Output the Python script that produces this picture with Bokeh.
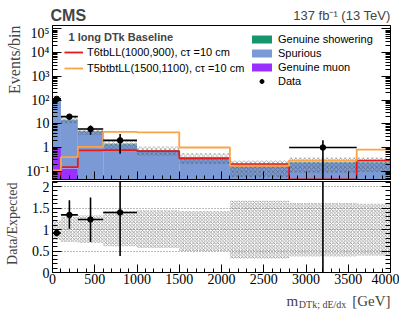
import math
from bokeh.plotting import figure
from bokeh.models import (Range1d, LogAxis, LinearAxis, FixedTicker, Label,
                          Legend, LegendItem, CustomJSTickFormatter)
from bokeh.layouts import column, row
from bokeh.embed import file_html
from bokeh.resources import INLINE

# ---------------- data ----------------
edges = [0, 100, 300, 600, 1000, 1500, 2100, 2800, 3600, 4000]
genuine_muon = [1.0, 0.13, 0, 0, 0, 0, 0, 0, 0]
spurious = [100.0, 14.07, 4.6, 1.38, 0.76, 0.39, 0.17, 0.23, 0.23]
genuine_showering = [20.7, 0.7, 0.26, 0.05, 0.02, 0.01, 0.005, 0.005, 0.005]
unc_lo = [0.76, 0.71, 0.69, 0.61, 0.57, 0.50, 0.32, 0.37, 0.39]
unc_hi = [1.21, 1.30, 1.33, 1.43, 1.45, 1.43, 1.67, 1.62, 1.60]
data = [112, 20, 6, 2, 0, 0, 0, 1, 0]
data_lo = [103, 15.2, 3.45, 0.55, 0, 0, 0, 0.001, 0]
data_hi = [122, 25.1, 8.5, 3.7, 0, 0, 0, 2.0, 0]
sig_t6 = [0.02, 0.15, 0.75, 0.78, 0.71, 0.35, 0.2, 0.045, 0.28]
sig_t5 = [0.107, 0.39, 1.07, 4.6, 4.35, 1.0, 0.17, 0.28, 0.82]
log_ticks = [1e-1, 1, 10, 100, 1e3, 1e4, 1e5]
log_labels = ["10\u207b\u00b9", "1", "10", "10\u00b2", "10\u00b3", "10\u2074", "10\u2075"]
x_ticks = [0, 500, 1000, 1500, 2000, 2500, 3000, 3500, 4000]
ratio_ticks = [0, 0.5, 1, 1.5, 2]

GREEN = "#16966c"
BLUE = "#7b9ad5"
PURPLE = "#9a30ff"
RED = "#e41a1c"
ORANGE = "#fca445"
SERIF = "Liberation Serif"
SANS = "Liberation Sans"

n = len(data)
left = edges[:-1]
right = edges[1:]
centers = [(a + b) / 2 for a, b in zip(left, right)]
floor = 1e-3
mu_top = [floor + m for m in genuine_muon]
sp_top = [mu_top[i] + spurious[i] for i in range(n)]
sh_top = [sp_top[i] + genuine_showering[i] for i in range(n)]
total = [genuine_muon[i] + spurious[i] + genuine_showering[i] for i in range(n)]

xr = Range1d(0, 4000)
STRIP_W = 23
MAIN_W = 399 - STRIP_W


def blank(width, height):
    f = figure(width=width, height=height, x_range=Range1d(0, width),
               y_range=Range1d(0, height), min_border=0, toolbar_location=None,
               output_backend="svg", x_axis_location=None, y_axis_location=None,
               title=None)
    f.grid.visible = False
    f.outline_line_color = None
    f.background_fill_color = "white"
    f.border_fill_color = "white"
    return f


def style_axis(ax, ticker, labels=True, major=9, minor=5):
    ax.ticker = ticker
    ax.major_tick_in = major
    ax.major_tick_out = 0
    ax.minor_tick_in = minor
    ax.minor_tick_out = 0
    ax.axis_line_color = "black"
    ax.major_tick_line_color = "black"
    ax.minor_tick_line_color = "black"
    if labels:
        ax.major_label_text_font = SERIF
        ax.major_label_text_font_size = "14px"
        ax.major_label_text_color = "black"
        ax.major_label_standoff = 3
    else:
        ax.formatter = CustomJSTickFormatter(code="return ''")
        ax.major_label_text_font_size = "1px"
        ax.major_label_standoff = 0


# ---------------- header ----------------
HEAD_H = 25
header = blank(399, HEAD_H)
header.add_layout(Label(x=50, y=HEAD_H - 14.5, text="CMS", text_font=SANS,
                        text_font_style="bold", text_font_size="16px",
                        text_baseline="middle", text_align="left"))
header.add_layout(Label(x=390, y=HEAD_H - 15, text="137 fb\u207b\u00b9 (13 TeV)",
                        text_font=SANS, text_font_size="13px",
                        text_baseline="middle", text_align="right"))

# ---------------- top panel ----------------
p1 = figure(width=MAIN_W, height=156, y_axis_type="log", x_range=xr,
            y_range=Range1d(0.0447, 1.4e5), min_border_left=49 - STRIP_W,
            min_border_right=9, min_border_top=0, min_border_bottom=2,
            toolbar_location=None, output_backend="svg")
p1.grid.visible = False
p1.outline_line_color = "black"
p1.outline_line_width = 1
p1.background_fill_color = "white"
p1.border_fill_color = "white"

minor_log = [k * 10.0 ** e for e in range(-2, 6) for k in range(2, 10)]
xminor = list(range(0, 4001, 100))

style_axis(p1.yaxis[0], FixedTicker(ticks=log_ticks, minor_ticks=minor_log), True, 9, 5)
p1.yaxis[0].major_label_overrides = {t: s for t, s in zip(log_ticks, log_labels)}
style_axis(p1.xaxis[0], FixedTicker(ticks=x_ticks, minor_ticks=xminor), False, 8, 4)
ra = LogAxis()
style_axis(ra, FixedTicker(ticks=log_ticks, minor_ticks=minor_log), False, 9, 5)
p1.add_layout(ra, "right")

r_mu = p1.quad(left=left, right=right, bottom=[floor] * n, top=mu_top,
               fill_color=PURPLE, line_color=None)
r_sp = p1.quad(left=left, right=right, bottom=mu_top, top=sp_top,
               fill_color=BLUE, line_color=None)
r_sh = p1.quad(left=left, right=right, bottom=sp_top, top=sh_top,
               fill_color=GREEN, line_color=None)
p1.quad(left=left, right=right,
        bottom=[total[i] * unc_lo[i] for i in range(n)],
        top=[total[i] * unc_hi[i] for i in range(n)],
        fill_color=None, line_color=None, hatch_pattern="diagonal_cross",
        hatch_color="#444444", hatch_alpha=0.75, hatch_scale=4.5, hatch_weight=0.6)

r_t6 = p1.step(x=edges, y=sig_t6 + [sig_t6[-1]], mode="after",
               line_color=RED, line_width=1.8)
r_t5 = p1.step(x=edges, y=sig_t5 + [sig_t5[-1]], mode="after",
               line_color=ORANGE, line_width=1.8)

idx = [i for i in range(n) if data[i] > 0]
p1.segment(x0=[left[i] for i in idx], x1=[right[i] for i in idx],
           y0=[data[i] for i in idx], y1=[data[i] for i in idx],
           line_color="black", line_width=1.6)
p1.segment(x0=[centers[i] for i in idx], x1=[centers[i] for i in idx],
           y0=[data_lo[i] for i in idx], y1=[data_hi[i] for i in idx],
           line_color="black", line_width=1.6)
r_data = p1.scatter(x=[centers[i] for i in idx], y=[data[i] for i in idx],
                    size=5.5, marker="circle", fill_color="black", line_color="black")

leg_r = Legend(items=[LegendItem(label="Genuine showering", renderers=[r_sh]),
                      LegendItem(label="Spurious", renderers=[r_sp]),
                      LegendItem(label="Genuine muon", renderers=[r_mu]),
                      LegendItem(label="Data", renderers=[r_data])],
               location=(197, 92))
leg_l = Legend(items=[LegendItem(label="T6tbLL(1000,900), c\u03c4 =10 cm", renderers=[r_t6]),
                      LegendItem(label="T5btbtLL(1500,1100), c\u03c4 =10 cm", renderers=[r_t5])],
               location=(12, 105))
for lg, gw, sp in ((leg_r, 25, 2), (leg_l, 19, 4)):
    lg.border_line_alpha = 0
    lg.background_fill_alpha = 0
    lg.label_text_font = SANS
    lg.label_text_font_size = "11px"
    lg.label_text_color = "black"
    lg.glyph_width = gw
    lg.glyph_height = 10
    lg.label_height = 12
    lg.label_standoff = 4
    lg.spacing = sp
    lg.padding = 0
    lg.margin = 0
    lg.click_policy = "none"
    p1.add_layout(lg)

p1.add_layout(Label(x=16, y=154 - 11.7, x_units="screen", y_units="screen",
                    text="1 long DTk Baseline", text_font=SANS, text_font_style="bold",
                    text_font_size="11px", text_baseline="middle", text_align="left"))

# ---------------- ratio panel ----------------
p2 = figure(width=MAIN_W, height=109, x_range=xr, y_range=Range1d(0, 2.12),
            min_border_left=49 - STRIP_W, min_border_right=9, min_border_top=0,
            min_border_bottom=18, toolbar_location=None, output_backend="svg")
p2.outline_line_color = "black"
p2.outline_line_width = 1
p2.background_fill_color = "white"
p2.border_fill_color = "white"
p2.xgrid.visible = False
p2.ygrid.ticker = FixedTicker(ticks=[0.5, 1, 1.5, 2])
p2.ygrid.grid_line_color = "#777777"
p2.ygrid.grid_line_dash = "1 2"
p2.ygrid.grid_line_width = 1

rminor = [round(0.1 * k, 1) for k in range(0, 22)]
style_axis(p2.yaxis[0], FixedTicker(ticks=ratio_ticks, minor_ticks=rminor), True, 9, 5)
style_axis(p2.xaxis[0], FixedTicker(ticks=x_ticks, minor_ticks=xminor), True, 8, 4)
p2.xaxis[0].major_label_standoff = 1
ra2 = LinearAxis()
style_axis(ra2, FixedTicker(ticks=ratio_ticks, minor_ticks=rminor), False, 9, 5)
p2.add_layout(ra2, "right")

p2.quad(left=left, right=right, bottom=unc_lo, top=unc_hi,
        fill_color=None, line_color=None, hatch_pattern="diagonal_cross",
        hatch_color="#888888", hatch_alpha=1.0, hatch_scale=3.5, hatch_weight=0.8)

ratio = [data[i] / total[i] for i in idx]
rlo = [data_lo[i] / total[i] for i in idx]
rhi = [data_hi[i] / total[i] for i in idx]
cx = [centers[i] for i in idx]
p2.segment(x0=[left[i] for i in idx], x1=[right[i] for i in idx], y0=ratio, y1=ratio,
           line_color="black", line_width=1.6)
p2.segment(x0=cx, x1=cx, y0=rlo, y1=rhi, line_color="black", line_width=1.6)
p2.scatter(x=cx, y=ratio, size=5.5, marker="circle", fill_color="black", line_color="black")

# ---------------- left strip with axis titles ----------------
STRIP_H = 156 + 109
strip = blank(STRIP_W, STRIP_H)
strip.add_layout(Label(x=14, y=STRIP_H, angle=math.pi / 2, text="Events/bin",
                       text_font=SERIF, text_font_size="16px",
                       text_baseline="middle", text_align="right"))
strip.add_layout(Label(x=12, y=108, angle=math.pi / 2, text="Data/Expected",
                       text_font=SERIF, text_font_size="14px",
                       text_baseline="middle", text_align="right"))

# ---------------- footer with x-axis title ----------------
FOOT_H = 34
footer = blank(399, FOOT_H)
footer.add_layout(Label(x=286, y=FOOT_H - 10.7, text="m", text_font=SERIF,
                        text_font_size="15px", text_baseline="alphabetic", text_align="left"))
footer.add_layout(Label(x=298.3, y=FOOT_H - 14, text="DTk; dE/dx", text_font=SERIF,
                        text_font_size="10px", text_baseline="alphabetic", text_align="left"))
footer.add_layout(Label(x=390, y=FOOT_H - 10.7, text="[GeV]", text_font=SERIF,
                        text_font_size="15px", text_baseline="alphabetic", text_align="right"))

layout = column(header, row(strip, column(p1, p2, spacing=0), spacing=0), footer, spacing=0)
open("out.html", "w").write(file_html(layout, INLINE))
